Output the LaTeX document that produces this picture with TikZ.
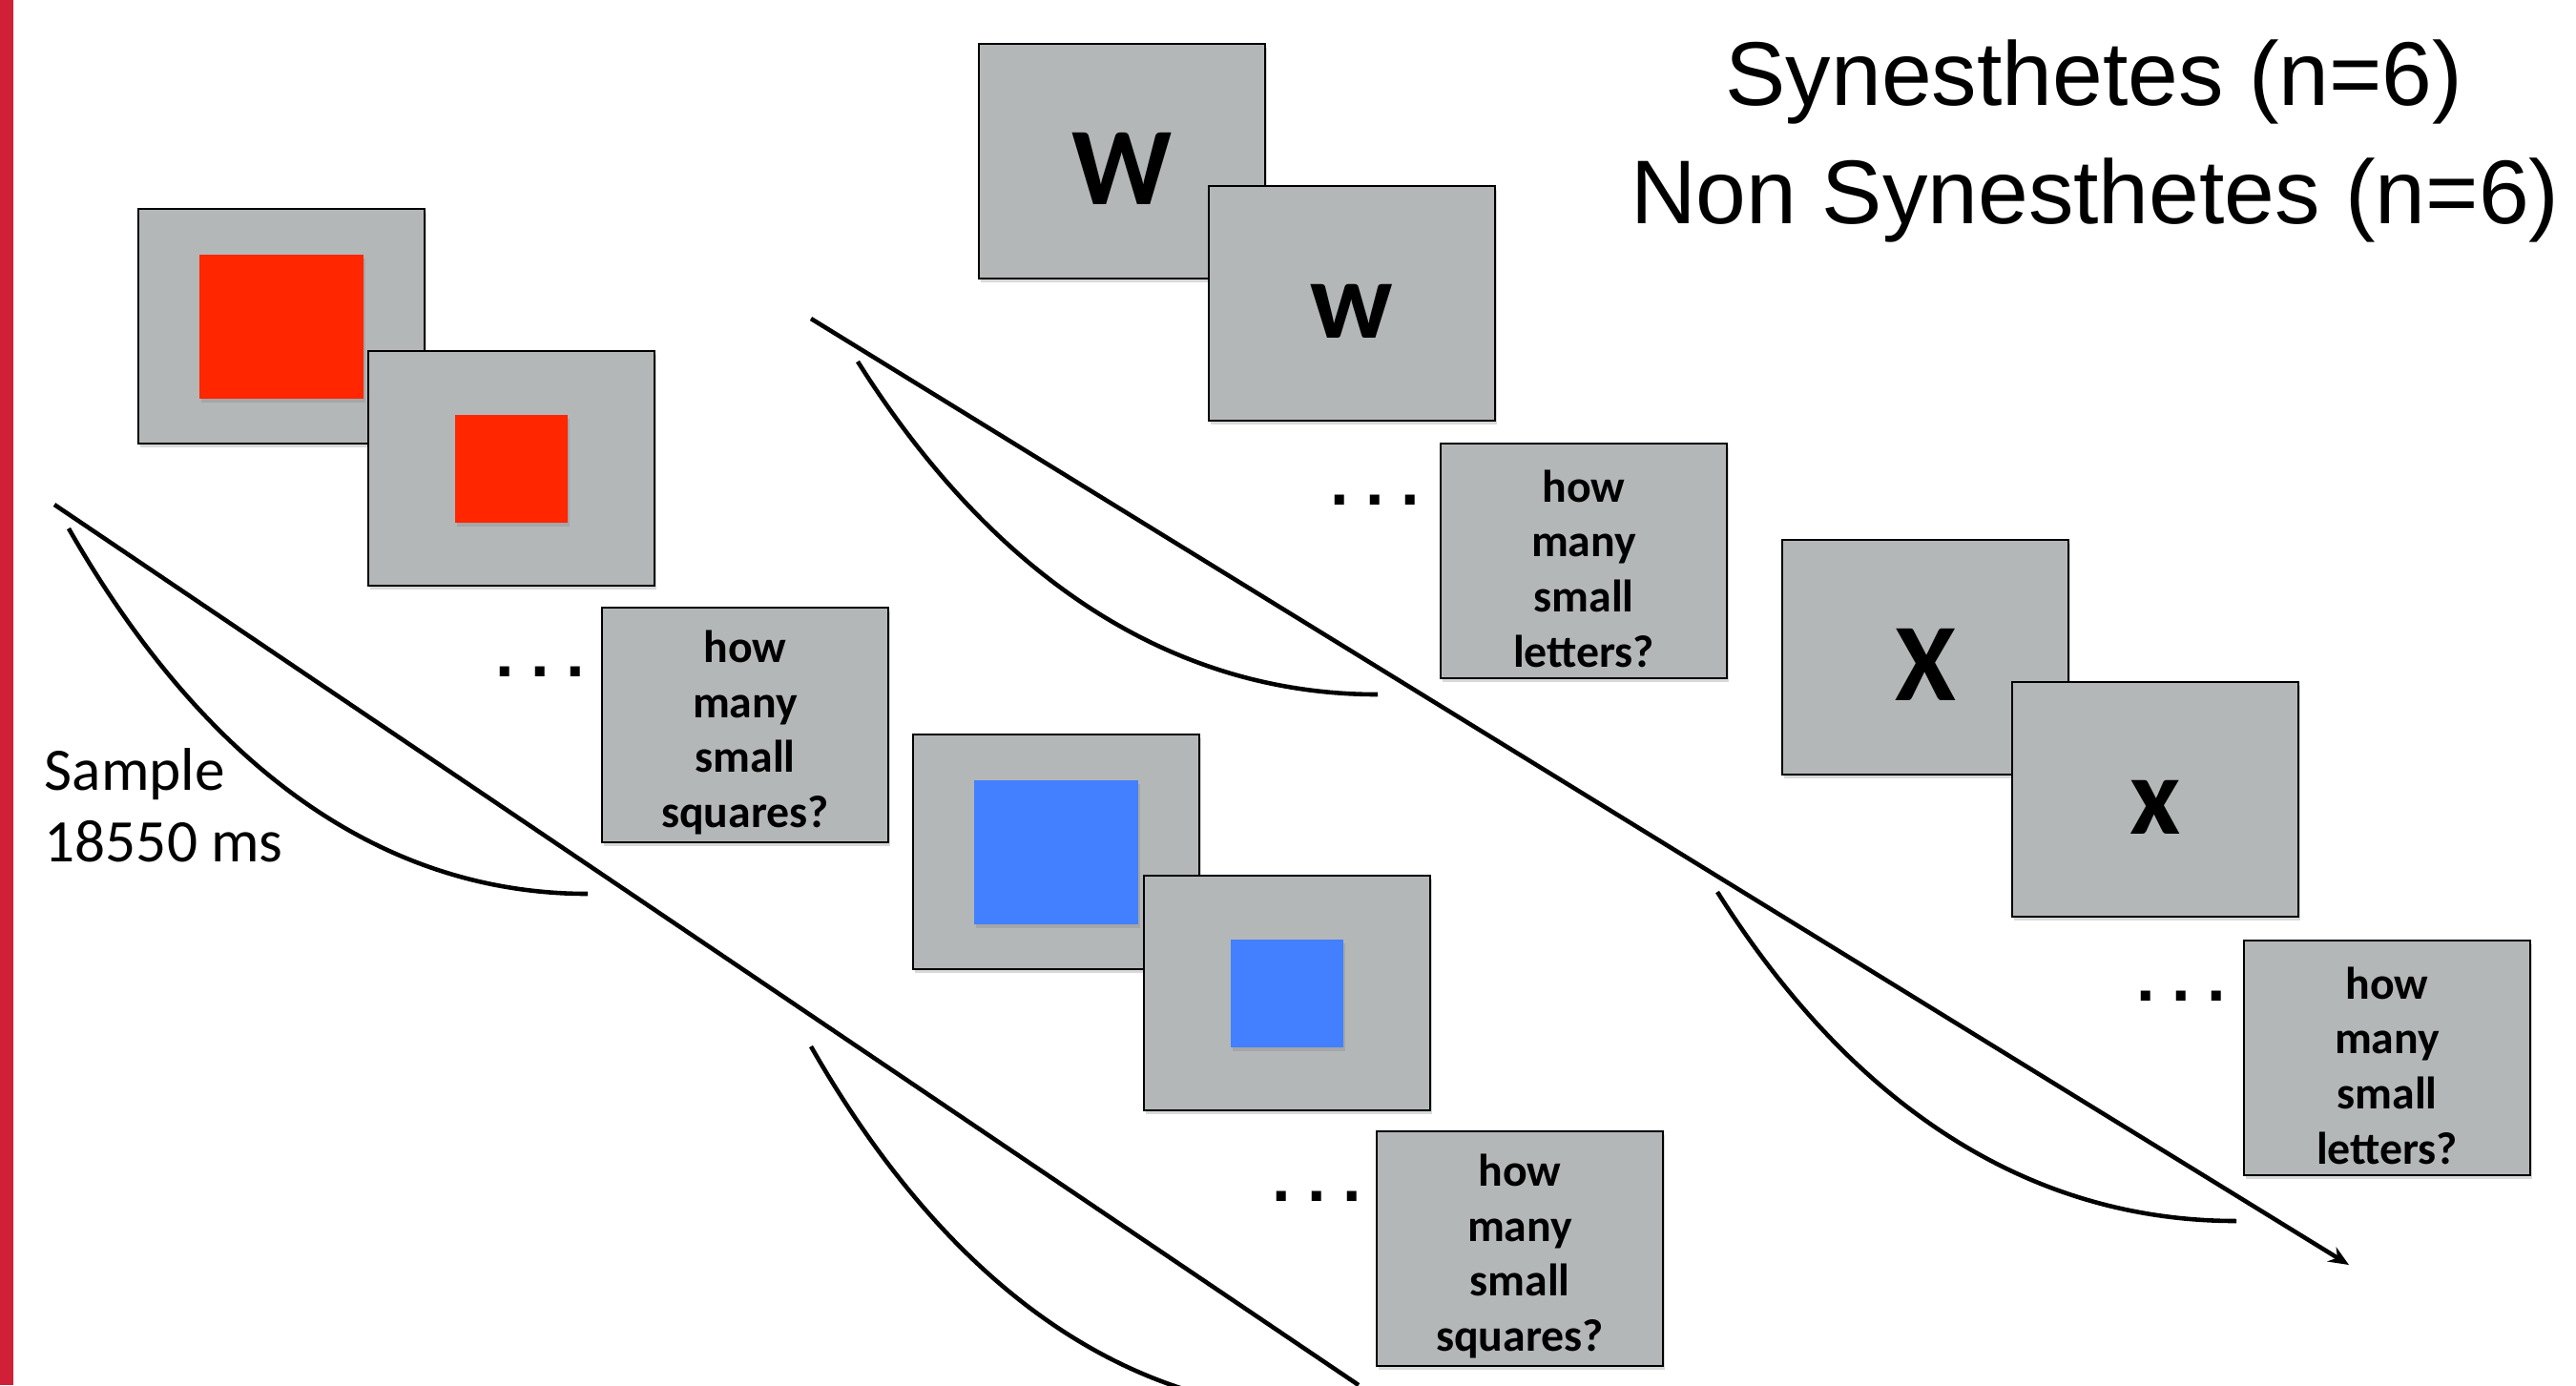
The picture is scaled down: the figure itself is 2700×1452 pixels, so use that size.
\documentclass[tikz,border=0pt]{standalone}
\usepackage{fontspec}
\setmainfont{Carlito}
\newfontfamily\helv{Liberation Sans}
\usetikzlibrary{shadows}
\usetikzlibrary{arrows.meta}

\definecolor{cardgray}{RGB}{180,183,184}
\definecolor{stimred}{RGB}{255,38,0}
\definecolor{stimblue}{RGB}{67,128,255}
\definecolor{barred}{RGB}{208,32,56}

\newcommand{\tripdot}{.\hspace{5pt}.\hspace{5pt}.}

\begin{document}
\begin{tikzpicture}[x=0.1mm,y=-0.1mm,
	shade/.style={drop shadow={shadow xshift=0.6pt,shadow yshift=-1.2pt,opacity=0.3}},
	card/.style={draw,line width=0.8pt,fill=cardgray,minimum width=30mm,minimum height=24.6mm,inner sep=0pt,shade},
	bigsq/.style={minimum width=17.2mm,minimum height=15.1mm,inner sep=0pt,shade},
	smallsq/.style={minimum width=11.8mm,minimum height=11.3mm,inner sep=0pt,shade},
	qtext/.style={align=center,inner sep=0pt,font=\fontsize{13.6}{16.4}\selectfont\bfseries},
	letter/.style={inner sep=0pt,font=\fontsize{33}{33}\selectfont\bfseries},
	ellip/.style={font=\helv\fontsize{20}{20}\selectfont\bfseries,inner sep=0pt},
	timeline/.style={line width=1.3pt},
	swoop/.style={line width=1.3pt}]
	\useasboundingbox (0,0) rectangle (2700,1452);
	\clip (0,0) rectangle (2700,1452);
	\fill[barred] (0,0) rectangle (14,1452);

	% titles
	\node[font=\helv\fontsize{27}{27}\selectfont,anchor=base] (syn) at (2195,110) {Synesthetes (n=6)};
	\node[font=\helv\fontsize{27}{27}\selectfont,anchor=base] (nonsyn) at (2196,234) {Non Synesthetes (n=6)};

	% squares, red
	\node[card] (a1) at (295,342) {};
	\node[bigsq,fill=stimred] (a1in) at (a1) {};
	\node[card] (a2) at (536,491) {};
	\node[smallsq,fill=stimred] (a2in) at (a2) {};
	\node[ellip] (d1) at (566,704) {\tripdot};
	\node[card] (q1) at (781,760) {};
	\node[qtext] (q1t) at ([yshift=-0.8mm]q1.center) {how\\many\\small\\squares?};

	% squares, blue
	\node[card] (b1) at (1107,893) {};
	\node[bigsq,fill=stimblue] (b1in) at (b1) {};
	\node[card] (b2) at (1349,1041) {};
	\node[smallsq,fill=stimblue] (b2in) at (b2) {};
	\node[ellip] (d2) at (1380,1254) {\tripdot};
	\node[card] (q2) at (1593,1309) {};
	\node[qtext] (q2t) at ([yshift=-0.8mm]q2.center) {how\\many\\small\\squares?};

	% letters
	\node[card] (w1) at (1176,169) {};
	\node[letter] (w1t) at ([yshift=-0.8mm]w1.center) {W};
	\node[card] (w2) at (1417,318) {};
	\node[letter] (w2t) at ([yshift=-0.8mm]w2.center) {w};
	\node[ellip] (d3) at (1441,524) {\tripdot};
	\node[card] (q3) at (1660,588) {};
	\node[qtext] (q3t) at ([yshift=-0.8mm]q3.center) {how\\many\\small\\letters?};
	\node[card] (x1) at (2018,689) {};
	\node[letter] (x1t) at ([yshift=-0.8mm]x1.center) {X};
	\node[card] (x2) at (2259,838) {};
	\node[letter] (x2t) at ([yshift=-0.8mm]x2.center) {x};
	\node[ellip] (d4) at (2286,1044) {\tripdot};
	\node[card] (q4) at (2502,1109) {};
	\node[qtext] (q4t) at ([yshift=-0.8mm]q4.center) {how\\many\\small\\letters?};

	\node[anchor=base west,inner sep=0pt,font=\fontsize{18}{18}\selectfont] (smp) at (46,828) {Sample};
	\node[anchor=base west,inner sep=0pt,font=\fontsize{18}{18}\selectfont] (dur) at (46,903) {18550 ms};

	% time axes
	\coordinate (t1s) at (57,529);
	\coordinate (t1e) at (1424,1452);
	\coordinate (t2s) at (850,334);
	\coordinate (t2e) at (2462,1326);
	\draw[timeline] (t1s) -- (t1e);
	\draw[timeline,-{Stealth[length=6pt,width=5pt]}] (t2s) -- (t2e);

	% sample windows
	\draw[swoop] (72,554) .. controls +(140,245) and +(-220,0) .. (616,937);
	\draw[swoop] (850,1097) .. controls +(140,245) and +(-220,0) .. (1394,1480);
	\draw[swoop] (899,379) .. controls +(140,222) and +(-220,0) .. (1444,728);
	\draw[swoop] (1800,935) .. controls +(140,222) and +(-220,0) .. (2344,1280);
\end{tikzpicture}
\end{document}
